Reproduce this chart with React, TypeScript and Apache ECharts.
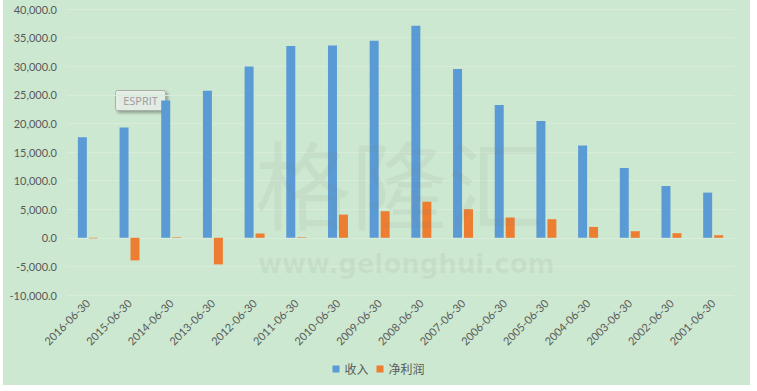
import React, { useEffect, useRef } from "react";
import * as echarts from "echarts";

const categories = [
  "2016-06-30", "2015-06-30", "2014-06-30", "2013-06-30", "2012-06-30", "2011-06-30",
  "2010-06-30", "2009-06-30", "2008-06-30", "2007-06-30", "2006-06-30", "2005-06-30",
  "2004-06-30", "2003-06-30", "2002-06-30", "2001-06-30",
];
const revenue = [
  17600, 19300, 24000, 25700, 29950, 33550, 33600, 34450, 37050, 29500, 23200, 20400,
  16150, 12200, 9050, 7900,
];
const netProfit = [
  -100, -3950, 100, -4650, 750, 100, 4050, 4650, 6300, 5000, 3550, 3250, 1900, 1150, 800, 450,
];
const seriesNames = ["收入", "净利润"];

const fmt = (v: number) =>
  v.toLocaleString("en-US", { minimumFractionDigits: 1, maximumFractionDigits: 1 });

export default function App() {
  const ref = useRef<HTMLDivElement>(null);
  useEffect(() => {
    if (!ref.current) return;
    const chart = echarts.init(ref.current, null, { renderer: "svg" });
    const font = "Lato, 'Noto Sans CJK SC', sans-serif";
    chart.setOption({
      animation: false,
      backgroundColor: "#ffffff",
      textStyle: { fontFamily: font },
      graphic: [
        { type: "rect", z: -10, shape: { x: 3, y: 0, width: 747, height: 385 }, style: { fill: "#cde8d0" }, silent: true },
        {
          type: "text", z: 100, left: 255, top: 132,
          style: { text: "格隆汇", font: "96px 'Noto Sans CJK SC'", fill: "rgba(120,120,120,0.09)" },
          silent: true,
        },
        {
          type: "text", z: 100, left: 258, top: 251,
          style: { text: "www.gelonghui.com", font: "bold 26px 'DejaVu Sans'", fill: "rgba(120,120,120,0.09)" },
          silent: true,
        },
        {
          type: "group", z: 110, left: 115, top: 90,
          children: [
            {
              type: "rect", shape: { x: 0, y: 0, width: 50, height: 20, r: 2 },
              style: { fill: "rgba(235,242,236,0.85)", stroke: "#a8b0a8", lineWidth: 1, shadowBlur: 3, shadowOffsetX: 2, shadowOffsetY: 2, shadowColor: "rgba(0,0,0,0.35)" },
            },
            {
              type: "text", x: 25, y: 10,
              style: { text: "ESPRIT", font: "11px 'Open Sans'", fill: "#9a9a9a", align: "center", verticalAlign: "middle" },
            },
          ],
        },
      ],
      legend: {
        bottom: 11,
        left: "center",
        icon: "rect",
        itemWidth: 7,
        itemHeight: 7,
        itemGap: 8,
        textStyle: { color: "#595959", fontSize: 12, fontFamily: font },
        data: seriesNames,
      },
      grid: { left: 67, right: 23, top: 9, bottom: 96 },
      xAxis: {
        type: "category",
        data: categories,
        axisLine: { onZero: false, show: false },
        axisTick: { show: false },
        axisLabel: { rotate: 45, color: "#595959", fontSize: 11, margin: 6, interval: 0 },
      },
      yAxis: {
        type: "value",
        min: -10000,
        max: 40000,
        interval: 5000,
        axisLine: { show: false },
        axisTick: { show: false },
        axisLabel: { color: "#595959", fontSize: 11, margin: 10, formatter: (v: number) => fmt(v) },
        splitLine: { lineStyle: { color: "#d8ecd9", width: 1 } },
      },
      series: [
        {
          name: seriesNames[0], type: "bar", data: revenue, barWidth: 9, barGap: "22%",
          itemStyle: { color: "#5b9bd5" },
        },
        {
          name: seriesNames[1], type: "bar", data: netProfit, barWidth: 9,
          itemStyle: { color: "#ed7d31" },
        },
      ],
    });
    return () => chart.dispose();
  }, []);
  return (
    <div
      ref={ref}
      style={{ position: "absolute", left: 0, top: 0, width: 757, height: 391 }}
    />
  );
}
